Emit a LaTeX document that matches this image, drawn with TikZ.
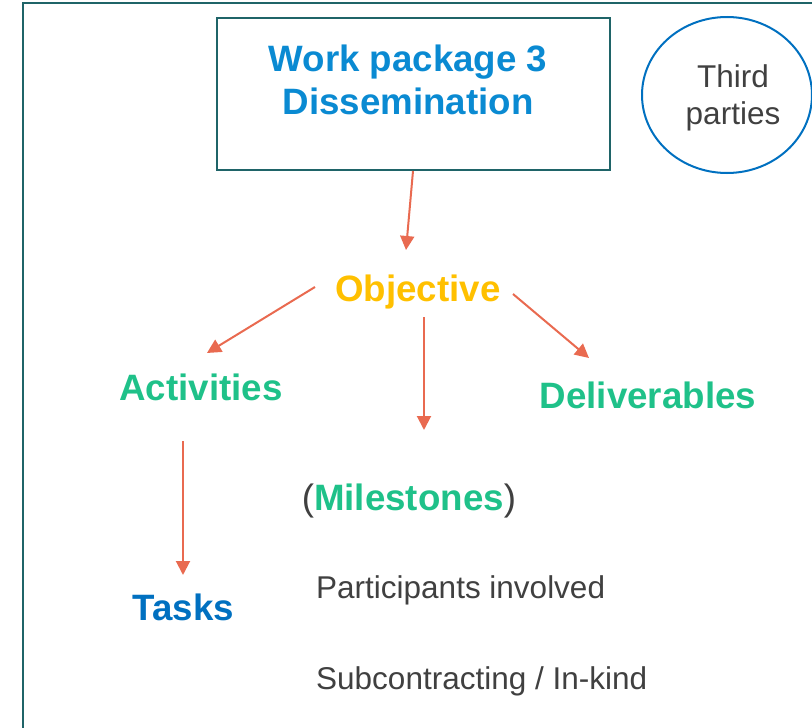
\documentclass[tikz,border=0pt]{standalone}
\usepackage{fontspec}
\setmainfont{Liberation Sans}
\usetikzlibrary{arrows.meta,shapes.geometric}

\definecolor{frameteal}{HTML}{1F6468}
\definecolor{wpblue}{HTML}{0A8AD2}
\definecolor{taskblue}{HTML}{0070C0}
\definecolor{ringblue}{HTML}{0070C0}
\definecolor{itemgreen}{HTML}{1FC189}
\definecolor{objgold}{HTML}{FFC000}
\definecolor{txtgray}{HTML}{404040}
\definecolor{arrowcoral}{HTML}{E96A50}

\tikzset{
  head/.style={font=\fontsize{36.7}{43}\selectfont\bfseries, inner sep=0pt, anchor=base},
  plain/.style={font=\fontsize{31.5}{37}\selectfont, text=txtgray, inner sep=0pt, anchor=base},
  link/.style={draw=arrowcoral, line width=2pt,
    -{Triangle[length=14pt, width=14pt]}},
}

\begin{document}
\begin{tikzpicture}[x=1pt, y=-1pt]
  \useasboundingbox (0,0) rectangle (812,728);
  \clip (0,0) rectangle (812,728);

  % outer frame, running off the right and bottom edges
  \draw[frameteal, line width=2pt] (23,3) rectangle (840,760);

  % work package box
  \node[draw=frameteal, line width=2.6pt, minimum width=393pt, minimum height=152pt,
        inner sep=0pt] (wp) at (413.5,94) {};
  \node[head, text=wpblue] (wpa) at (408,71) {Work package 3};
  \node[head, text=wpblue] (wpb) at (408,114) {Dissemination};

  % third parties
  \node[draw=ringblue, line width=2pt, ellipse, minimum width=170pt, minimum height=156pt,
        inner sep=0pt] (tp) at (727,95) {};
  \node[plain] (tpa) at (733,87) {Third};
  \node[plain] (tpb) at (733,124) {parties};

  % headings
  \node[head, text=objgold] (obj) at (418,301) {Objective};
  \node[head, text=itemgreen] (act) at (201,400) {Activities};
  \node[head, text=itemgreen] (del) at (648,408) {Deliverables};
  \node[head, text=itemgreen] (mil) at (409,510)
       {\textcolor{txtgray}{\mdseries(}Milestones\textcolor{txtgray}{\mdseries)}};
  \node[head, text=taskblue] (task) at (183.5,620) {Tasks};

  % plain lines of text
  \node[plain, anchor=base west] (part) at (316,598) {Participants involved};
  \node[plain, anchor=base west] (sub) at (316,689) {Subcontracting / In-kind};

  % arrow end points
  \coordinate (wpout) at (413,171);
  \coordinate (objin) at (406,250);
  \coordinate (objl) at (315,287);
  \coordinate (actin) at (207,353);
  \coordinate (objm) at (424,317);
  \coordinate (milin) at (424,430);
  \coordinate (objr) at (513,294);
  \coordinate (delin) at (589,358);
  \coordinate (actout) at (183,441);
  \coordinate (taskin) at (183,575);

  % connectors
  \draw[link] (wpout) -- (objin);
  \draw[link] (objl) -- (actin);
  \draw[link] (objm) -- (milin);
  \draw[link] (objr) -- (delin);
  \draw[link] (actout) -- (taskin);
\end{tikzpicture}
\end{document}
